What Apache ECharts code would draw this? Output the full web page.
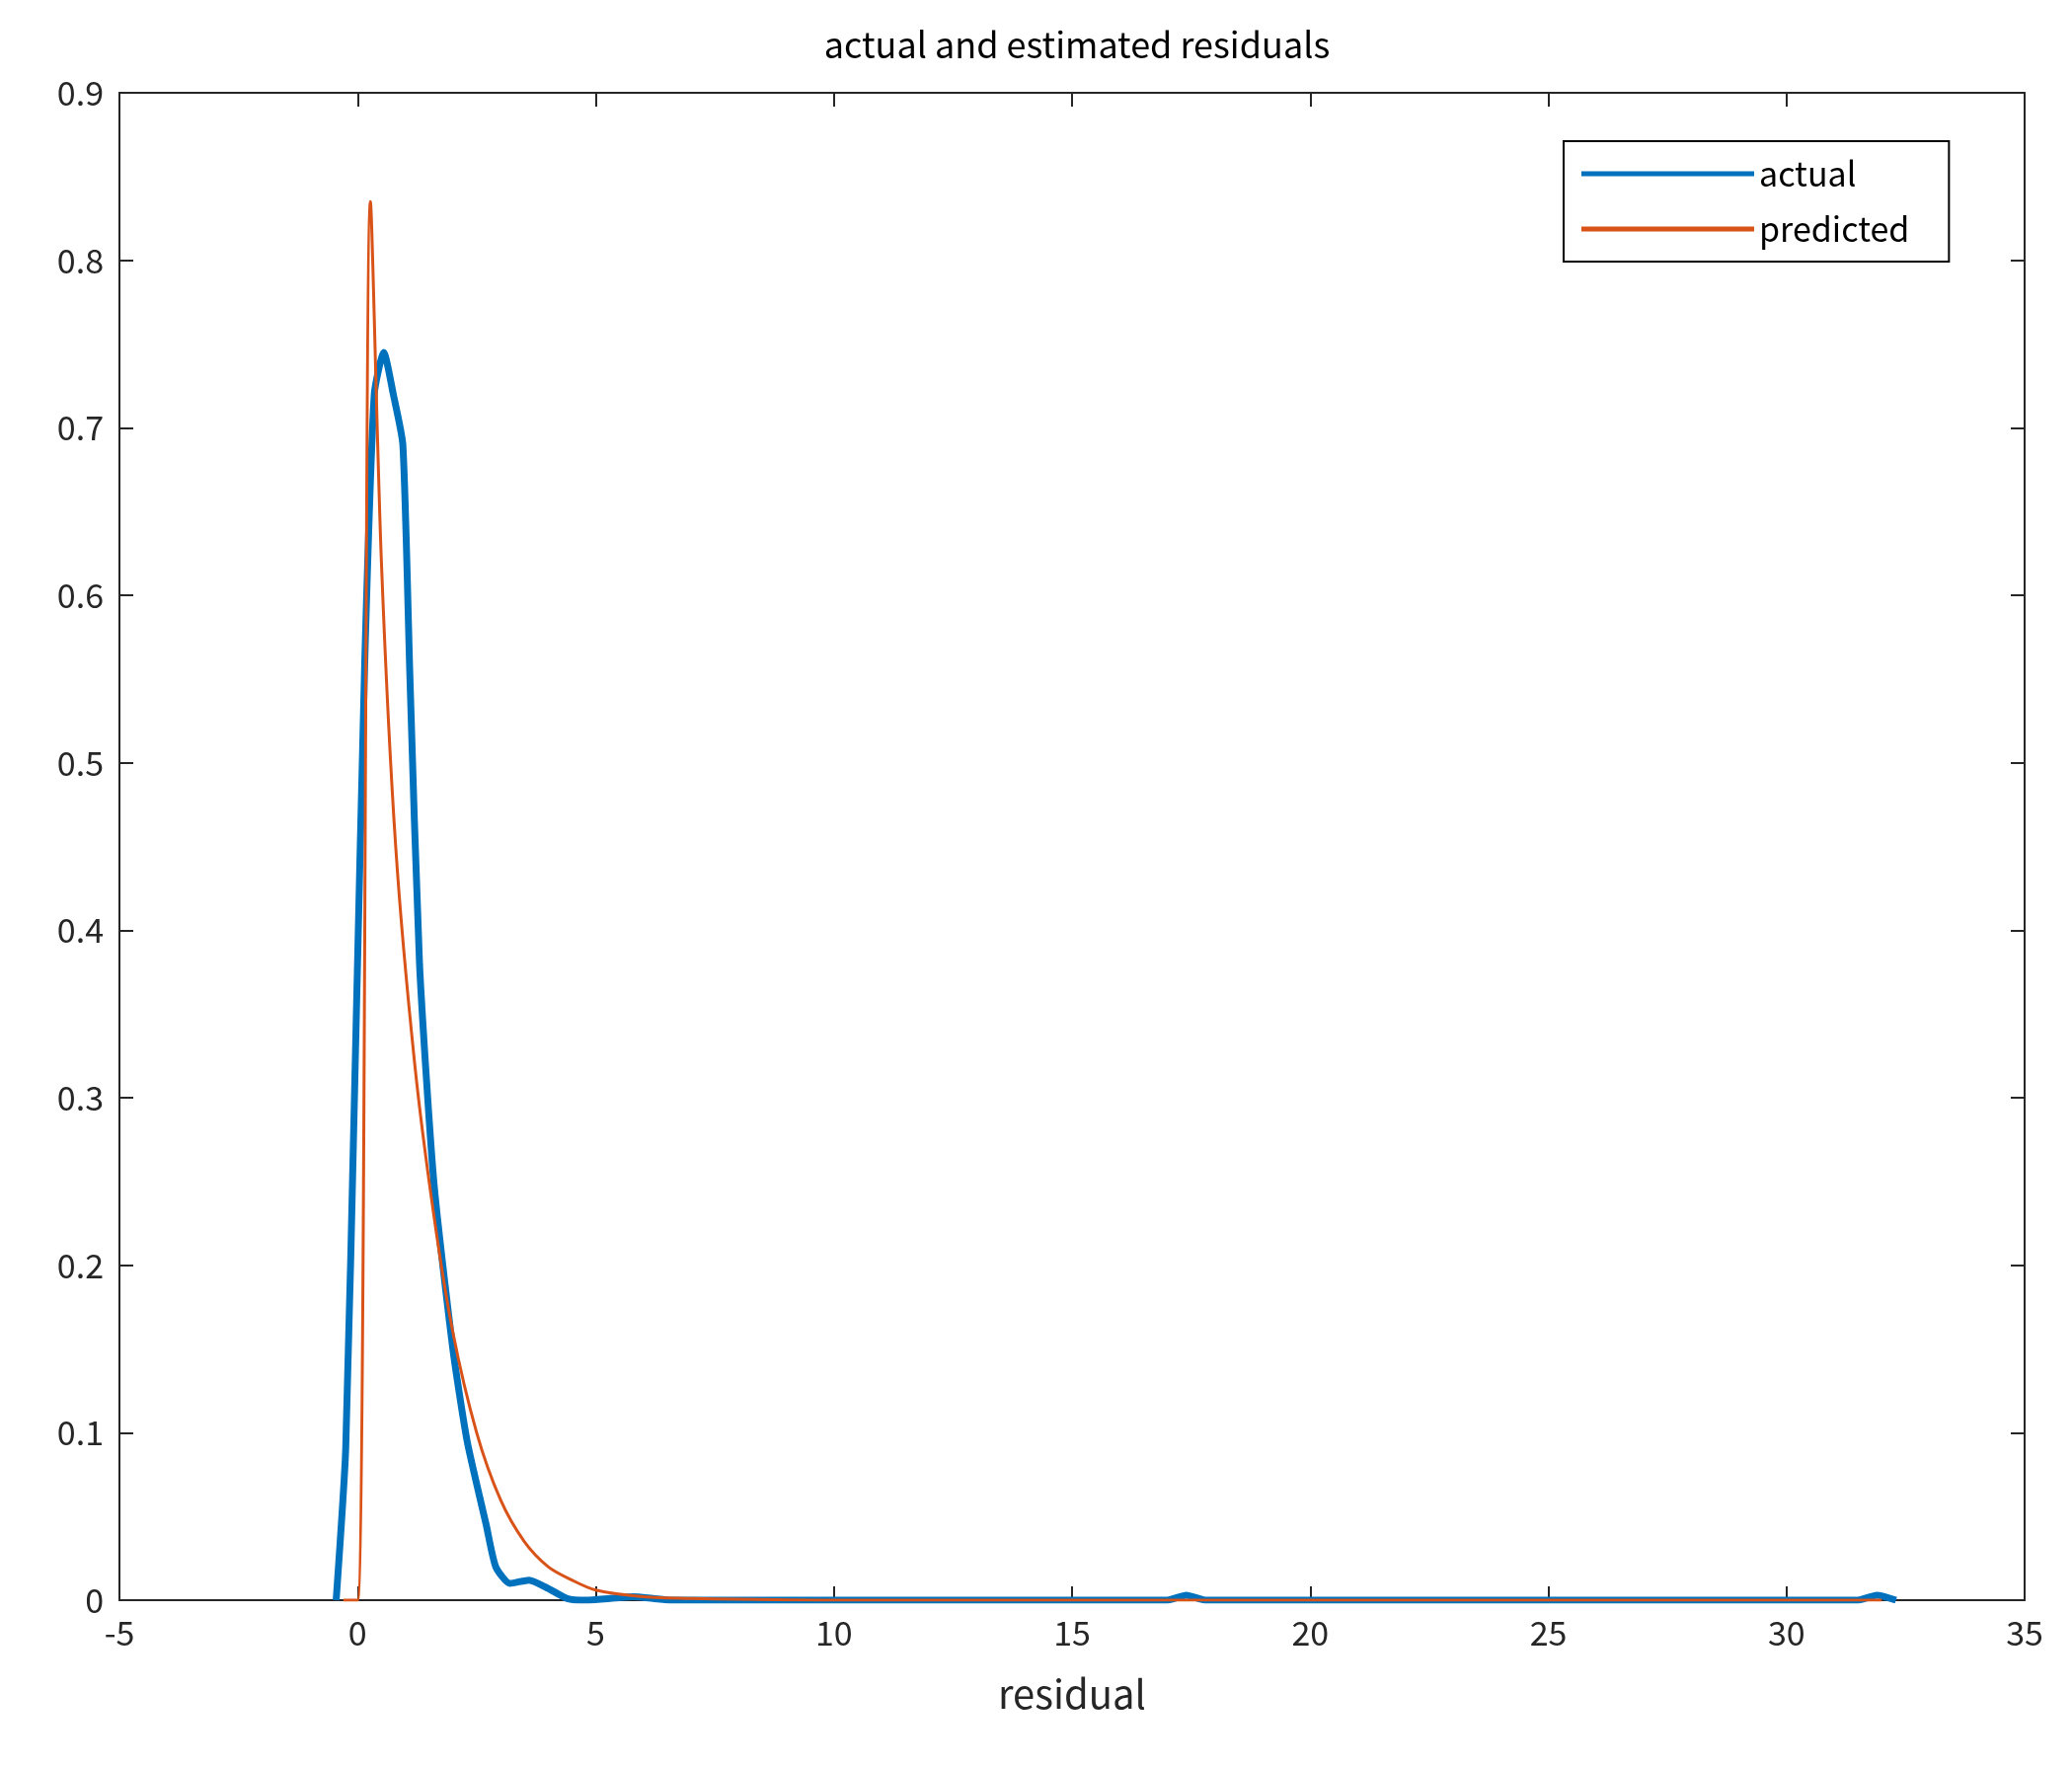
<!DOCTYPE html>
<html>
<head>
<meta charset="utf-8">
<script src="https://cdn.jsdelivr.net/npm/echarts@6/dist/echarts.min.js"></script>
<style>html,body{margin:0;background:#fff}#chart{width:2099px;height:1791px}</style>
</head>
<body>
<div id="chart"></div>
<script>
var actualX = [-0.45, -0.25, -0.05, 0.15, 0.35, 0.55, 0.75, 0.95, 1.1, 1.3, 1.6, 2.0, 2.3, 2.7, 2.9, 3.2, 3.6, 4.0, 4.4, 4.8, 5.3, 5.8, 6.2, 6.6, 17.0, 17.4, 17.8, 31.5, 31.9, 32.3];
var actualY = [0, 0.09, 0.32, 0.56, 0.72, 0.745, 0.72, 0.69, 0.55, 0.38, 0.25, 0.15, 0.095, 0.045, 0.02, 0.01, 0.012, 0.007, 0.001, 0, 0.001, 0.002, 0.001, 0, 0, 0.003, 0, 0, 0.003, 0];
var predX = [-0.3, 0.0, 0.27, 0.5, 0.8, 1.2, 1.6, 2.0, 2.5, 3.0, 3.5, 4.0, 4.5, 5.0, 6.0, 7.0, 10.0, 32.0];
var predY = [0, 0, 0.835, 0.62, 0.45, 0.32, 0.23, 0.16, 0.1, 0.06, 0.035, 0.02, 0.012, 0.006, 0.002, 0.001, 0, 0];

function pairs(xs, ys) { return xs.map(function (x, i) { return [x, ys[i]]; }); }

var font = "'Noto Sans CJK JP', 'DejaVu Sans', sans-serif";
var chart = echarts.init(document.getElementById('chart'));
var tickStyle = { show: true, inside: true, length: 14, lineStyle: { color: '#262626', width: 2 } };
var lineStyle = { show: true, onZero: false, lineStyle: { color: '#262626', width: 2 } };
var label = { color: '#262626', fontSize: 34, fontFamily: font, margin: 16 };

chart.setOption({
  animation: false,
  backgroundColor: '#fff',
  title: {
    text: 'actual and estimated residuals', left: 1086, top: 22, textAlign: 'center',
    textStyle: { color: '#000', fontSize: 36, fontWeight: 'normal', fontFamily: font }
  },
  legend: {
    orient: 'vertical', left: 1584, top: 143,
    padding: [16, 40, 16, 18], itemGap: 22,
    itemWidth: 175, itemHeight: 5,
    backgroundColor: '#fff', borderColor: '#000', borderWidth: 2,
    textStyle: { color: '#000', fontSize: 34, fontFamily: font },
    icon: 'rect',
    data: ['actual', 'predicted']
  },
  grid: { left: 121, right: 48, top: 94, bottom: 170 },
  xAxis: [
    { type: 'value', min: -5, max: 35, interval: 5, axisLine: lineStyle, axisTick: tickStyle,
      splitLine: { show: false }, axisLabel: label,
      name: 'residual', nameLocation: 'middle', nameGap: 75,
      nameTextStyle: { color: '#262626', fontSize: 40, fontFamily: font } },
    { type: 'value', position: 'top', min: -5, max: 35, interval: 5, axisLine: lineStyle,
      axisTick: tickStyle, splitLine: { show: false }, axisLabel: { show: false } }
  ],
  yAxis: [
    { type: 'value', min: 0, max: 0.9, interval: 0.1, axisLine: lineStyle, axisTick: tickStyle,
      splitLine: { show: false }, axisLabel: label },
    { type: 'value', position: 'right', min: 0, max: 0.9, interval: 0.1, axisLine: lineStyle,
      axisTick: tickStyle, splitLine: { show: false }, axisLabel: { show: false } }
  ],
  series: [
    { name: 'actual', type: 'line', data: pairs(actualX, actualY), showSymbol: false,
      smooth: 0.2, itemStyle: { color: '#0072BD' }, lineStyle: { color: '#0072BD', width: 7 } },
    { name: 'predicted', type: 'line', data: pairs(predX, predY), showSymbol: false,
      smooth: 0.3, itemStyle: { color: '#D95319' }, lineStyle: { color: '#D95319', width: 3 } }
  ]
});
</script>
</body>
</html>
